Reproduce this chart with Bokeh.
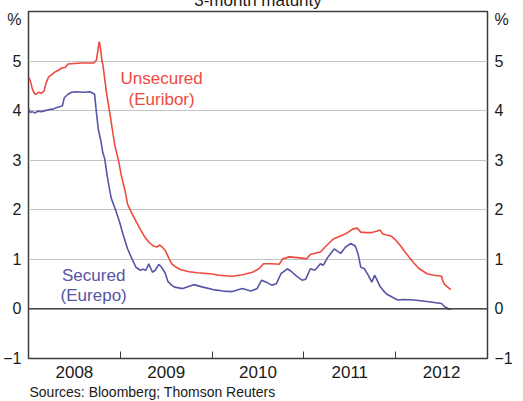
from bokeh.plotting import figure
from bokeh.models import FixedTicker, LinearAxis, Label, Span, Range1d, Title
from bokeh.embed import file_html
from bokeh.resources import INLINE

# ---- data (decimal years, per cent) ----
euribor_t = [2008.00, 2008.02, 2008.04, 2008.06, 2008.08, 2008.11, 2008.14, 2008.17, 2008.19, 2008.22,
             2008.25, 2008.29, 2008.33, 2008.36, 2008.40, 2008.43, 2008.50, 2008.58, 2008.66, 2008.71,
             2008.74, 2008.755, 2008.77, 2008.785, 2008.80, 2008.81, 2008.85, 2008.89, 2008.94, 2008.98,
             2009.01, 2009.05, 2009.08, 2009.12, 2009.17, 2009.22, 2009.27, 2009.32, 2009.36, 2009.40,
             2009.43, 2009.46, 2009.49, 2009.53, 2009.56, 2009.61, 2009.66, 2009.75, 2009.84, 2009.98,
             2010.08, 2010.22, 2010.33, 2010.44, 2010.51, 2010.56, 2010.65, 2010.73, 2010.77, 2010.84,
             2010.96, 2011.03, 2011.07, 2011.13, 2011.18, 2011.21, 2011.27, 2011.32, 2011.40, 2011.46,
             2011.53, 2011.58, 2011.62, 2011.68, 2011.74, 2011.80, 2011.83, 2011.86, 2011.90, 2011.95,
             2011.99, 2012.05, 2012.09, 2012.16, 2012.20, 2012.25, 2012.30, 2012.34, 2012.42, 2012.50,
             2012.51, 2012.53, 2012.56, 2012.60]
euribor_v = [4.68, 4.60, 4.45, 4.36, 4.33, 4.37, 4.35, 4.40, 4.55, 4.68,
             4.72, 4.78, 4.82, 4.86, 4.87, 4.94, 4.95, 4.96, 4.96, 4.96,
             5.02, 5.20, 5.39, 5.25, 5.00, 4.93, 4.36, 3.90, 3.30, 3.00,
             2.70, 2.40, 2.11, 1.95, 1.77, 1.60, 1.44, 1.33, 1.27, 1.25,
             1.29, 1.24, 1.18, 1.02, 0.91, 0.84, 0.79, 0.75, 0.73, 0.71,
             0.68, 0.66, 0.69, 0.74, 0.81, 0.91, 0.91, 0.90, 1.01, 1.05,
             1.03, 1.01, 1.10, 1.13, 1.15, 1.21, 1.32, 1.41, 1.47, 1.52,
             1.61, 1.63, 1.55, 1.54, 1.54, 1.57, 1.59, 1.51, 1.49, 1.47,
             1.41, 1.28, 1.18, 1.01, 0.92, 0.82, 0.76, 0.71, 0.68, 0.66,
             0.58, 0.50, 0.45, 0.39]

eurepo_t = [2008.00, 2008.02, 2008.04, 2008.07, 2008.10, 2008.14, 2008.18, 2008.22, 2008.27, 2008.30,
            2008.34, 2008.37, 2008.39, 2008.43, 2008.47, 2008.52, 2008.60, 2008.67, 2008.72, 2008.74,
            2008.76, 2008.79, 2008.81, 2008.83, 2008.86, 2008.90, 2008.94, 2008.99, 2009.03, 2009.08,
            2009.12, 2009.17, 2009.22, 2009.25, 2009.28, 2009.31, 2009.35, 2009.38, 2009.42, 2009.45,
            2009.49, 2009.52, 2009.56, 2009.59, 2009.68, 2009.80, 2009.90, 2010.01, 2010.12, 2010.22,
            2010.33, 2010.42, 2010.49, 2010.54, 2010.59, 2010.65, 2010.70, 2010.75, 2010.82, 2010.86,
            2010.92, 2010.98, 2011.02, 2011.07, 2011.12, 2011.18, 2011.21, 2011.26, 2011.33, 2011.40,
            2011.45, 2011.51, 2011.56, 2011.59, 2011.62, 2011.66, 2011.70, 2011.74, 2011.77, 2011.79,
            2011.83, 2011.86, 2011.90, 2011.95, 2012.02, 2012.09, 2012.20, 2012.34, 2012.50, 2012.53,
            2012.57, 2012.60]
eurepo_v = [4.04, 3.96, 3.98, 3.95, 3.99, 3.98, 4.00, 4.02, 4.03, 4.06,
            4.08, 4.10, 4.26, 4.33, 4.37, 4.38, 4.37, 4.38, 4.33, 3.96,
            3.63, 3.37, 3.15, 3.03, 2.65, 2.24, 2.04, 1.77, 1.50, 1.21,
            1.04, 0.84, 0.78, 0.80, 0.78, 0.91, 0.74, 0.78, 0.90, 0.84,
            0.72, 0.55, 0.48, 0.44, 0.41, 0.49, 0.44, 0.39, 0.36, 0.35,
            0.41, 0.36, 0.41, 0.58, 0.54, 0.48, 0.51, 0.71, 0.81, 0.76,
            0.66, 0.58, 0.60, 0.81, 0.78, 0.91, 0.88, 1.04, 1.21, 1.12,
            1.24, 1.32, 1.27, 1.11, 0.84, 0.81, 0.68, 0.54, 0.68, 0.61,
            0.45, 0.38, 0.30, 0.25, 0.18, 0.19, 0.18, 0.15, 0.11, 0.05,
            0.01, -0.01]

year_labels = ["2008", "2009", "2010", "2011", "2012"]
year_label_pos = [2008.5, 2009.5, 2010.5, 2011.5, 2012.5]
year_bounds = [2009, 2010, 2011, 2012]
y_ticks = [-1, 0, 1, 2, 3, 4, 5]
unit_label = "%"
unit_pos = 5.84

RED = "#EE4A3F"
BLUE = "#5755A5"
FONT = "Liberation Sans"
AX = "#3c3c3c"

p = figure(width=515, height=415, output_backend="svg", toolbar_location=None,
           x_range=Range1d(2008.0, 2013.0), y_range=Range1d(-1, 6),
           min_border_left=21, min_border_right=21, min_border_top=22, min_border_bottom=43)
p.styles = {"margin-top": "-14px"}

p.title.text = "3-month maturity"
p.title.align = "center"
p.title.text_font = FONT
p.title.text_font_size = "17px"
p.title.text_font_style = "normal"
p.title.text_color = "#1a1a1a"
p.title.standoff = 4

p.outline_line_color = AX
p.outline_line_width = 1.5
p.background_fill_color = "white"
p.border_fill_color = "white"

# x axis
xa = p.xaxis[0]
xa.ticker = FixedTicker(ticks=year_label_pos, minor_ticks=year_bounds)
xa.major_label_overrides = {pos: lab for pos, lab in zip(year_label_pos, year_labels)}
xa.major_tick_in = 0
xa.major_tick_out = 0
xa.minor_tick_in = 7
xa.minor_tick_out = 0
xa.minor_tick_line_color = AX
xa.minor_tick_line_width = 1
xa.axis_line_color = None
xa.major_label_standoff = 7
xa.major_label_text_font = FONT
xa.major_label_text_font_size = "17px"
xa.major_label_text_color = "#1a1a1a"

# y axes (with the "%" unit shown as an extra label near the top)
ya = p.yaxis[0]
ra = LinearAxis()
p.add_layout(ra, "right")
for ax in (ya, ra):
    ax.ticker = FixedTicker(ticks=y_ticks + [unit_pos])
    ax.major_label_overrides = {unit_pos: unit_label}
    ax.major_tick_in = 0
    ax.major_tick_out = 0
    ax.minor_tick_line_color = None
    ax.axis_line_color = None
    ax.major_label_standoff = 7
    ax.major_label_text_font = FONT
    ax.major_label_text_font_size = "16px"
    ax.major_label_text_color = "#1a1a1a"

p.xgrid.grid_line_color = None
p.ygrid.ticker = FixedTicker(ticks=y_ticks)
p.ygrid.grid_line_color = "#c4c4c4"
p.ygrid.grid_line_width = 1

p.add_layout(Span(location=0, dimension="width", line_color="#222222", line_width=1.3))

p.line(euribor_t, euribor_v, line_color=RED, line_width=1.6)
p.line(eurepo_t, eurepo_v, line_color=BLUE, line_width=1.6)

def lab(x, y, text, color, size="17px"):
    p.add_layout(Label(x=x, y=y, text=text, text_color=color, text_font=FONT,
                       text_font_size=size, text_align="center", text_baseline="middle"))

lab(2009.45, 4.64, "Unsecured", RED)
lab(2009.45, 4.23, "(Euribor)", RED)
lab(2008.71, 0.68, "Secured", BLUE)
lab(2008.71, 0.28, "(Eurepo)", BLUE)

src = Title(text="Sources: Bloomberg; Thomson Reuters", align="left", text_font=FONT,
            text_font_size="14px", text_font_style="normal", text_color="#1a1a1a",
            standoff=2, offset=1)
p.add_layout(src, "below")

open("out.html", "w").write(file_html(p, INLINE))
